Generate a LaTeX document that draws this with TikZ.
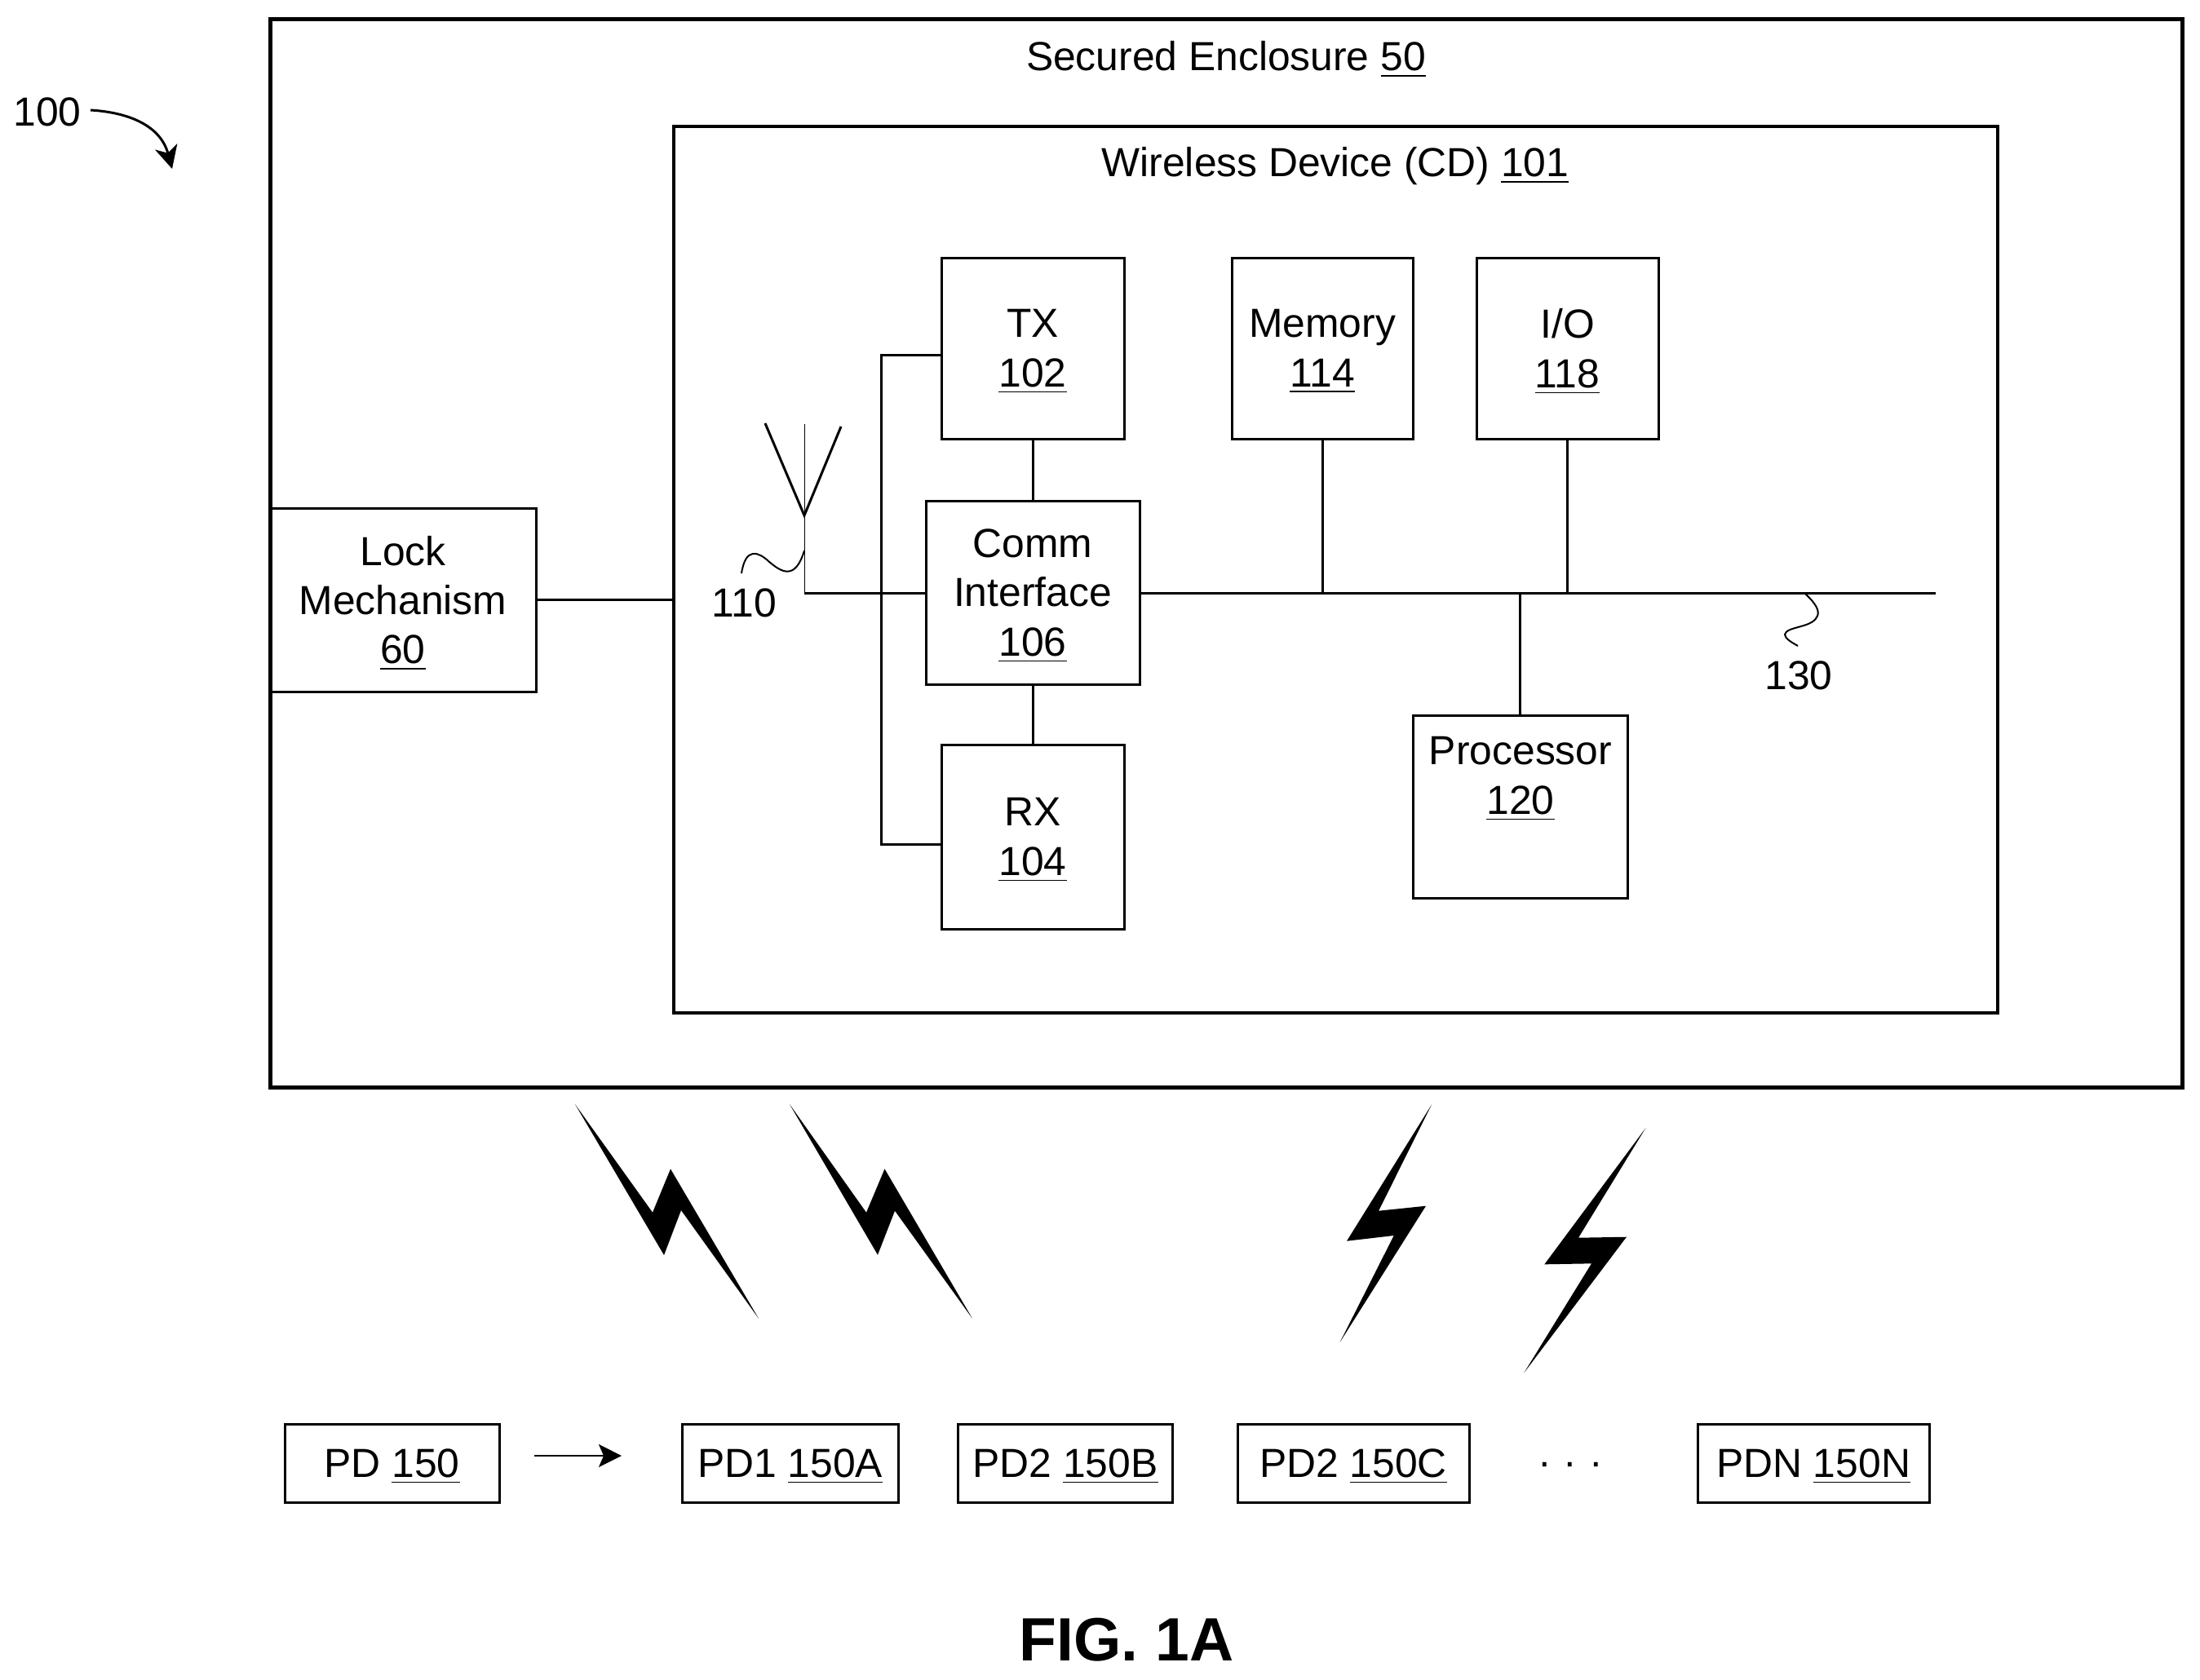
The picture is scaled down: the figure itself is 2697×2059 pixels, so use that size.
\documentclass[tikz,border=0pt]{standalone}
\usepackage{fontspec}
\setmainfont{Liberation Sans}
\usetikzlibrary{arrows.meta}
\newcommand{\un}[1]{\raisebox{0pt}[\height][0pt]{\underline{#1}}}

\tikzset{
    box/.style 2 args={draw=black,line width=0.75pt,minimum width=#1*0.25pt,minimum height=#2*0.25pt},
    wire/.style={draw=black,line width=0.75pt},
    lead/.style={draw=black,line width=0.5pt},
    bolt/.style={fill=black}
}

\begin{document}
\begin{tikzpicture}[x=0.25pt,y=-0.25pt]
    \tikzstyle{every node}+=[inner sep=0pt,font=\fontsize{12.45}{15.1}\selectfont,align=center]
    \useasboundingbox (0,0) rectangle (2697,2059);

    \node [box={326}{225}] at (494,735.5) (lock60) {Lock\\Mechanism\\\un{60}};
    \node [box={2344}{1310},line width=1.25pt] at (1503,678) (encl50) {};
    \node at (1503,69) (encl50t) {Secured Enclosure \un{50}};
    \node [box={1623}{1087},line width=0.9pt] at (1637.5,698.5) (dev101) {};
    \node at (1637,204) (dev101t) {Wireless Device (CD) \un{101}};

    \node [box={224}{222}] at (1266,427) (tx102) {TX\\\un{102}};
    \node [box={222}{222}] at (1621,427) (mem114) {Memory\\\un{114}};
    \node [box={223}{222}] at (1921.5,427) (io118) {I/O\\\un{118}};
    \node [box={262}{225}] at (1266,726.5) (comm106) {Comm\\Interface\\\un{106}};
    \node [box={224}{226}] at (1266,1026) (rx104) {RX\\\un{104}};
    \node [box={263}{224}] at (1863.5,989) (proc120) {};
    \node at (1864,951) (proc120t) {Processor\\\un{120}};

    \coordinate (antTop) at (986,520);
    \coordinate (antApex) at (986,632);
    \coordinate (antFoot) at (986,727);
    \coordinate (antL) at (938,519);
    \coordinate (antR) at (1031,523);
    \coordinate (busEnd) at (2373,727);
    \coordinate (brTop) at (1080,435);
    \coordinate (brBot) at (1080,1035);

    \draw [black,line width=0.25pt] (antTop) -- (antFoot);
    \draw [wire] (antL) -- (antApex) -- (antR);
    \draw [wire] (antFoot) -- (comm106.west |- antFoot);
    \draw [wire] (comm106.east |- busEnd) -- (busEnd);
    \draw [wire] (tx102.west |- brTop) -- (brTop) -- (brBot) -- (rx104.west |- brBot);
    \draw [wire] (tx102.south) -- (comm106.north);
    \draw [wire] (comm106.south) -- (rx104.north);
    \draw [wire] (mem114.south) -- (mem114.south |- busEnd);
    \draw [wire] (io118.south) -- (io118.south |- busEnd);
    \draw [wire] (proc120.north) -- (proc120.north |- busEnd);
    \draw [black,line width=0.9pt] (lock60.east) -- (dev101.west |- lock60.east);

    \node at (58,137) (fig100) {100};
    \coordinate (fig100a) at (111,135);
    \coordinate (fig100b) at (211,207);
    \draw [black,line width=0.75pt,-{Stealth[length=7pt,width=7pt,inset=2pt]}] (fig100a) .. controls (160,138) and (197,155) .. (fig100b);

    \node at (912,739) (ant110) {110};
    \coordinate (ant110a) at (909,703);
    \coordinate (ant110b) at (986,675);
    \draw [lead] (ant110a) .. controls (914,670) and (930,677) .. (942,688) .. controls (958,702) and (975,712) .. (ant110b);

    \node at (2205,828) (bus130) {130};
    \coordinate (bus130a) at (2213,728);
    \coordinate (bus130b) at (2204,792);
    \draw [lead] (bus130a) .. controls (2226,740) and (2232,750) .. (2227,757) .. controls (2220,770) and (2190,768) .. (2188,778) .. controls (2188,783) and (2197,788) .. (bus130b);

    \fill [bolt] (705,1354) -- (800,1486.7) -- (822,1433.3) -- (930,1616.7) -- (835,1484) -- (814,1539) -- cycle;
    \fill [bolt] (968,1354) -- (1062,1486.7) -- (1084.5,1433.3) -- (1192,1616.7) -- (1097,1484.7) -- (1076,1538.7) -- cycle;
    \fill [bolt] (1755.3,1354) -- (1690,1484.7) -- (1748,1478.7) -- (1642.7,1645.7) -- (1708.7,1515) -- (1651,1521.7) -- cycle;
    \fill [bolt] (2017.3,1383.3) -- (1935,1517.7) -- (1994,1516.7) -- (1868.3,1683.3) -- (1951,1549.3) -- (1893.3,1550.3) -- cycle;

    \node [box={263}{96}] at (480.5,1794) (pd150) {PD \un{150}};
    \node [box={265}{96}] at (968.5,1794) (pd150a) {PD1 \un{150A}};
    \node [box={263}{96}] at (1306,1794) (pd150b) {PD2 \un{150B}};
    \node [box={284}{96}] at (1659,1794) (pd150c) {PD2 \un{150C}};
    \node [box={284}{96}] at (2223,1794) (pd150n) {PDN \un{150N}};
    \node at (1925,1801) (pddots) {·\hspace{0.3em}·\hspace{0.3em}·};
    \coordinate (pdarrA) at (655,1785);
    \coordinate (pdarrB) at (762,1785);
    \draw [black,line width=0.55pt,-{Stealth[length=7pt,width=7pt,inset=1.5pt]}] (pdarrA) -- (pdarrB);

    \node [font=\fontsize{18.75}{22}\selectfont\bfseries] at (1381,2011) (fig1a) {FIG. 1A};
\end{tikzpicture}
\end{document}
